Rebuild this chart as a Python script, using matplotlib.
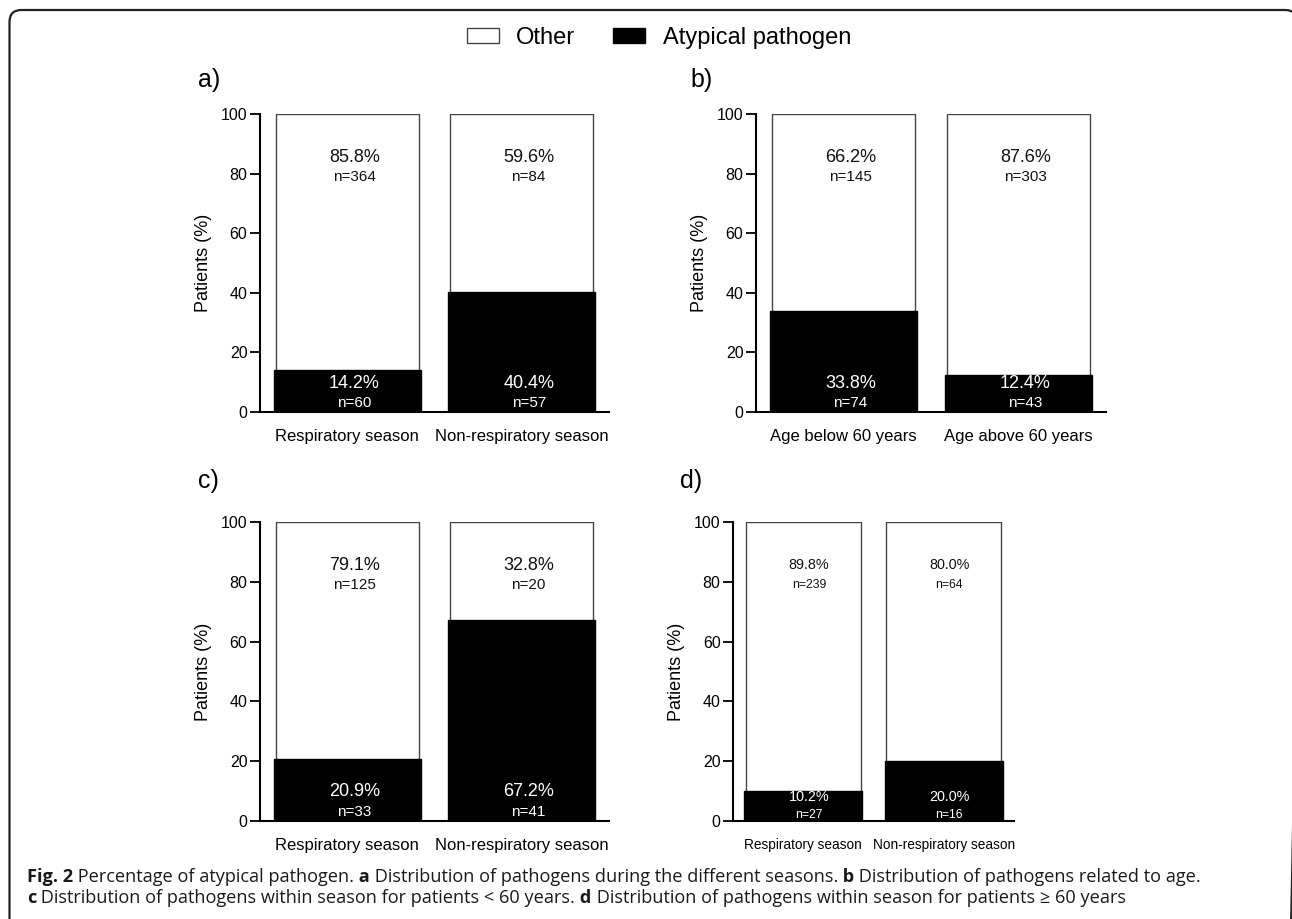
import matplotlib
matplotlib.use("Agg")
import matplotlib.pyplot as plt
from matplotlib.patches import FancyBboxPatch

# ---------------- data ----------------
panel_labels = ["a)", "b)", "c)", "d)"]
categories_a = ["Respiratory season", "Non-respiratory season"]
categories_b = ["Age below 60 years", "Age above 60 years"]
categories_c = ["Respiratory season", "Non-respiratory season"]
categories_d = ["Respiratory season", "Non-respiratory season"]

atypical_pct_a = [14.2, 40.4]
other_pct_a = [85.8, 59.6]
atypical_n_a = [60, 57]
other_n_a = [364, 84]

atypical_pct_b = [33.8, 12.4]
other_pct_b = [66.2, 87.6]
atypical_n_b = [74, 43]
other_n_b = [145, 303]

atypical_pct_c = [20.9, 67.2]
other_pct_c = [79.1, 32.8]
atypical_n_c = [33, 41]
other_n_c = [125, 20]

atypical_pct_d = [10.2, 20.0]
other_pct_d = [89.8, 80.0]
atypical_n_d = [27, 16]
other_n_d = [239, 64]

yticks = [0, 20, 40, 60, 80, 100]
ylabel = "Patients (%)"
legend_labels = ["Other", "Atypical pathogen"]

caption_line1 = [("Fig. 2", "bold"), (" Percentage of atypical pathogen.", "normal"),
                 (" a", "bold"), (" Distribution of pathogens during the different seasons.", "normal"),
                 (" b", "bold"), (" Distribution of pathogens related to age.", "normal")]
caption_line2 = [("c", "bold"), (" Distribution of pathogens within season for patients < 60 years.", "normal"),
                 (" d", "bold"), (" Distribution of pathogens within season for patients \u2265 60 years", "normal")]

# ---------------- figure ----------------
W, H = 1292, 919
fig = plt.figure(figsize=(W / 100, H / 100), dpi=100)
plt.rcParams['font.family'] = ['Liberation Sans', 'DejaVu Sans']

# overlay axes in pixel coordinates for the frame and caption
ov = fig.add_axes([0, 0, 1, 1], zorder=-5)
ov.set_xlim(0, W)
ov.set_ylim(H, 0)
ov.axis("off")
frame = FancyBboxPatch((9.5, 10), 1297 - 9.5, 1000, boxstyle="round,pad=0,rounding_size=12",
                       fc="none", ec="#222222", lw=1.6, clip_on=False)
ov.add_patch(frame)


def px_axes(x0, x1, ytop, ybot):
    return fig.add_axes([x0 / W, 1 - ybot / H, (x1 - x0) / W, (ybot - ytop) / H])


# (axes, categories, atypical %, other %, atypical n, other n, label pos, text scale, low label y)
panels = [
    (px_axes(260, 609, 114, 412), categories_a, atypical_pct_a, other_pct_a, atypical_n_a, other_n_a, (198, 80), 1.0, (9.7, 3.0)),
    (px_axes(756, 1106, 114, 412), categories_b, atypical_pct_b, other_pct_b, atypical_n_b, other_n_b, (690, 80), 1.0, (9.7, 3.0)),
    (px_axes(260, 609, 522, 821), categories_c, atypical_pct_c, other_pct_c, atypical_n_c, other_n_c, (198, 481), 1.0, (9.7, 3.0)),
    (px_axes(733, 1014, 522, 821), categories_d, atypical_pct_d, other_pct_d, atypical_n_d, other_n_d, (680, 481), 0.8, (8.0, 1.9)),
]

bar_w = 0.82
handles = None
for i, (ax, cats, atyp, oth, atyp_n, oth_n, lab_pos, sc, low_y) in enumerate(panels):
    x = list(range(len(cats)))
    b_other = ax.bar(x, [a + o for a, o in zip(atyp, oth)], width=bar_w, color="white",
                     edgecolor="#444444", linewidth=1.0, zorder=2)
    b_atyp = ax.bar(x, atyp, width=bar_w + 0.02, color="black", edgecolor="black",
                    linewidth=1.0, zorder=3)
    if handles is None:
        handles = [b_other, b_atyp]
    for xi, a, o, an, on in zip(x, atyp, oth, atyp_n, oth_n):
        ax.text(xi + 0.04, 85.5, f"{o:.1f}%", ha="center", va="center", fontsize=13 * sc, color="#111111", zorder=4)
        ax.text(xi + 0.04, 79.0, f"n={on}", ha="center", va="center", fontsize=11 * sc, color="#111111", zorder=4)
        ax.text(xi + 0.04, low_y[0], f"{a:.1f}%", ha="center", va="center", fontsize=13 * sc, color="white", zorder=4)
        ax.text(xi + 0.04, low_y[1], f"n={an}", ha="center", va="center", fontsize=11 * sc, color="white", zorder=4)
    ax.set_xlim(-0.5, 1.5)
    ax.set_ylim(0, 100)
    ax.set_yticks(yticks)
    ax.set_xticks(x)
    ax.set_xticklabels(cats, fontsize=12 * (0.82 if sc < 1 else 1.0))
    ax.tick_params(axis="x", length=0, pad=12)
    ax.tick_params(axis="y", length=7, width=1.3, labelsize=11.5, pad=2)
    for s in ["top", "right"]:
        ax.spines[s].set_visible(False)
    for s in ["left", "bottom"]:
        ax.spines[s].set_linewidth(1.5)
    ax.set_ylabel(ylabel, fontsize=13)
    ax.yaxis.set_label_coords(-48 / (ax.get_position().width * W), 0.5)
    ov.text(lab_pos[0], lab_pos[1], panel_labels[i], fontsize=18, ha="left", va="center")

leg = fig.legend(handles, legend_labels, loc="center", bbox_to_anchor=(659 / W, 1 - 38 / H),
                 ncol=2, frameon=False, fontsize=17, handlelength=1.35, handleheight=0.6,
                 handletextpad=0.75, columnspacing=1.6)

# ---------------- caption ----------------
renderer = fig.canvas.get_renderer()
cap_font = ['Open Sans', 'DejaVu Sans']


def line_width(pieces, size):
    tot = 0
    for txt, wgt in pieces:
        t = ov.text(0, 0, txt, fontsize=size, fontweight=wgt, family=cap_font)
        tot += t.get_window_extent(renderer=renderer).width
        t.remove()
    return tot


base = 11.0
w1 = line_width(caption_line1, base)
cap_size = base * (1181 / w1)


def draw_line(pieces, x0, y):
    x = x0
    for txt, wgt in pieces:
        t = ov.text(x, y, txt, fontsize=cap_size, fontweight=wgt, family=cap_font,
                    ha="left", va="center", color="#1a1a1a")
        x += t.get_window_extent(renderer=renderer).width


draw_line(caption_line1, 27, 877)
draw_line(caption_line2, 27, 898)

fig.savefig("out.png", dpi=100)
